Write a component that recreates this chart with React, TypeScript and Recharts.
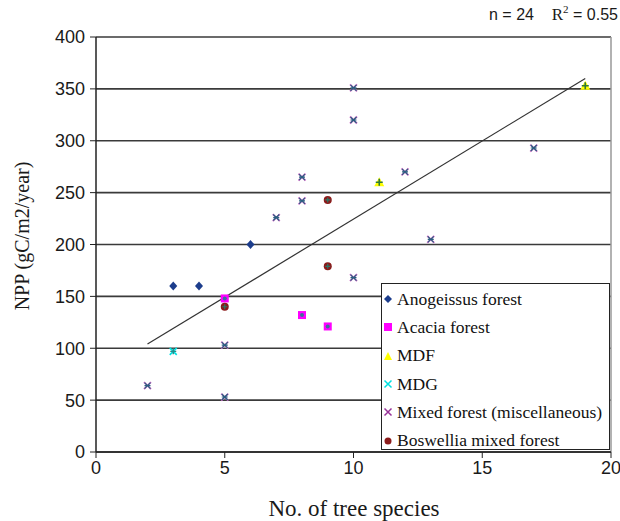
import React from "react";
import { ScatterChart, Scatter, XAxis, YAxis, CartesianGrid, ReferenceLine } from "recharts";

const anogeissus = [
  { x: 3, y: 160 },
  { x: 4, y: 160 },
  { x: 6, y: 200 },
];
const acacia = [
  { x: 5, y: 148 },
  { x: 8, y: 132 },
  { x: 9, y: 121 },
];
const mdf = [
  { x: 11, y: 260 },
  { x: 19, y: 353 },
];
const mdg = [{ x: 3, y: 97 }];
const mixed = [
  { x: 2, y: 64 },
  { x: 5, y: 103 },
  { x: 5, y: 53 },
  { x: 7, y: 226 },
  { x: 8, y: 242 },
  { x: 8, y: 265 },
  { x: 10, y: 351 },
  { x: 10, y: 320 },
  { x: 10, y: 168 },
  { x: 12, y: 270 },
  { x: 13, y: 205 },
  { x: 17, y: 293 },
];
const boswellia = [
  { x: 5, y: 140 },
  { x: 9, y: 243 },
  { x: 9, y: 179 },
];
const trend = [
  { x: 2, y: 104 },
  { x: 19, y: 360 },
];
const xTicks = [0, 5, 10, 15, 20];
const yTicks = [0, 50, 100, 150, 200, 250, 300, 350, 400];
const legendItems = [
  "Anogeissus forest",
  "Acacia forest",
  "MDF",
  "MDG",
  "Mixed forest (miscellaneous)",
  "Boswellia mixed forest",
];

const Diamond = (p: any) => {
  const { cx, cy } = p;
  return <path d={`M${cx},${cy - 4.5} L${cx + 4},${cy} L${cx},${cy + 4.5} L${cx - 4},${cy} Z`} fill="#1c3d8c" />;
};
const Square = (p: any) => {
  const { cx, cy } = p;
  return (
    <g>
      <rect x={cx - 4} y={cy - 4} width={8} height={8} fill="#ff00ff" />
      <circle cx={cx} cy={cy} r={2} fill="#3a6f9a" />
    </g>
  );
};
const Tri = (p: any) => {
  const { cx, cy } = p;
  return (
    <g>
      <path d={`M${cx},${cy - 5} L${cx + 5},${cy + 4} L${cx - 5},${cy + 4} Z`} fill="#ffff00" />
      <path d={`M${cx - 3.5},${cy} L${cx + 3.5},${cy} M${cx},${cy - 3.5} L${cx},${cy + 3.5}`} stroke="#2f7a3a" strokeWidth={1.6} />
    </g>
  );
};
const Cross = (p: any) => {
  const { cx, cy } = p;
  return (
    <g>
      <path d={`M${cx - 3.5},${cy - 3.5} L${cx + 3.5},${cy + 3.5} M${cx + 3.5},${cy - 3.5} L${cx - 3.5},${cy + 3.5}`} stroke="#00e0e0" strokeWidth={1.6} />
      <path d={`M${cx - 3},${cy} L${cx + 3},${cy} M${cx},${cy - 3} L${cx},${cy + 3}`} stroke="#2a8a8a" strokeWidth={1.4} />
    </g>
  );
};
const Asterisk = (p: any) => {
  const { cx, cy } = p;
  return (
    <g>
      <path d={`M${cx - 3.5},${cy - 3.5} L${cx + 3.5},${cy + 3.5} M${cx + 3.5},${cy - 3.5} L${cx - 3.5},${cy + 3.5}`} stroke="#d070c8" strokeWidth={1.8} />
      <path d={`M${cx - 3},${cy - 3} L${cx + 3},${cy + 3} M${cx + 3},${cy - 3} L${cx - 3},${cy + 3} M${cx - 3},${cy} L${cx + 3},${cy}`} stroke="#2a6080" strokeWidth={1.2} />
    </g>
  );
};
const Dot = (p: any) => {
  const { cx, cy } = p;
  return (
    <g>
      <circle cx={cx} cy={cy} r={4} fill="#8b1a1a" />
      <path d={`M${cx - 2.5},${cy} L${cx + 2.5},${cy} M${cx},${cy - 2.5} L${cx},${cy + 2.5}`} stroke="#2a7a6a" strokeWidth={1.2} />
    </g>
  );
};
const NoShape = () => <g />;

const legendMarkers = [
  <path d="M5,1 L9,5 L5,9 L1,5 Z" fill="#1c3d8c" />,
  <rect x={1} y={1} width={8} height={8} fill="#ff00ff" />,
  <path d="M5,1 L9,9 L1,9 Z" fill="#ffff00" />,
  <path d="M1.5,1.5 L8.5,8.5 M8.5,1.5 L1.5,8.5" stroke="#00e0e0" strokeWidth={1.5} />,
  <path d="M1.5,1.5 L8.5,8.5 M8.5,1.5 L1.5,8.5" stroke="#993399" strokeWidth={1.5} />,
  <circle cx={5} cy={5} r={3.5} fill="#8b1a1a" />,
];

const tickFont = { fill: "#1a1a1a", fontSize: 18, fontFamily: "Liberation Sans, Arial, sans-serif" };

export default function App() {
  return (
    <div style={{ position: "absolute", left: 0, top: 0, width: 620, height: 521, background: "#fff" }}>
      <ScatterChart width={620} height={521} margin={{ top: 37, right: 9, bottom: 29, left: 0 }}>
        <CartesianGrid vertical={false} stroke="#3a3a3a" strokeWidth={1.6} />
        <XAxis
          type="number"
          dataKey="x"
          domain={[0, 20]}
          ticks={xTicks}
          height={40}
          axisLine={{ stroke: "#222", strokeWidth: 1.5 }}
          tickLine={{ stroke: "#222" }}
          tickSize={6}
          tick={tickFont}
          tickMargin={3}
        />
        <YAxis
          type="number"
          dataKey="y"
          domain={[0, 400]}
          ticks={yTicks}
          width={96}
          axisLine={{ stroke: "#222", strokeWidth: 1.5 }}
          tickLine={{ stroke: "#222" }}
          tickSize={6}
          tickMargin={5}
          tick={tickFont}
        />
        <ReferenceLine x={20} stroke="#999" strokeWidth={1.5} />
        <Scatter data={trend} line={{ stroke: "#333", strokeWidth: 1.2 }} shape={NoShape} isAnimationActive={false} legendType="none" />
        <Scatter data={anogeissus} shape={Diamond} isAnimationActive={false} />
        <Scatter data={acacia} shape={Square} isAnimationActive={false} />
        <Scatter data={mdg} shape={Cross} isAnimationActive={false} />
        <Scatter data={mixed} shape={Asterisk} isAnimationActive={false} />
        <Scatter data={boswellia} shape={Dot} isAnimationActive={false} />
        <Scatter data={mdf} shape={Tri} isAnimationActive={false} />
      </ScatterChart>

      <div
        style={{
          position: "absolute",
          left: 22,
          top: 236,
          transform: "translate(-50%, -50%) rotate(-90deg)",
          whiteSpace: "nowrap",
          fontFamily: "Liberation Serif, Times New Roman, serif",
          fontSize: 20,
          color: "#1a1a1a",
        }}
      >
        NPP (gC/m2/year)
      </div>
      <div
        style={{
          position: "absolute",
          left: 354,
          top: 509,
          transform: "translate(-50%, -50%)",
          whiteSpace: "nowrap",
          fontFamily: "Liberation Serif, Times New Roman, serif",
          fontSize: 23,
          color: "#1a1a1a",
        }}
      >
        No. of tree species
      </div>
      <div
        style={{
          position: "absolute",
          left: 489,
          top: 3,
          whiteSpace: "nowrap",
          fontSize: 16,
          color: "#1a1a1a",
          fontFamily: "Liberation Sans, Arial, sans-serif",
        }}
      >
        n = 24&nbsp;&nbsp;&nbsp;&nbsp;
        <span style={{ fontFamily: "Liberation Serif, Times New Roman, serif", fontSize: 17 }}>
          R<sup style={{ fontSize: 11 }}>2</sup>
        </span>
        {" = 0.55"}
      </div>
      <div
        style={{
          position: "absolute",
          left: 381,
          top: 283,
          width: 229,
          height: 167,
          border: "1px solid #222",
          background: "#fff",
          boxSizing: "border-box",
          paddingTop: 1,
        }}
      >
        {legendItems.map((name, i) => (
          <div
            key={name}
            style={{
              display: "flex",
              alignItems: "center",
              height: 28.3,
              fontFamily: "Liberation Serif, Times New Roman, serif",
              fontSize: 17.5,
              color: "#111",
              whiteSpace: "nowrap",
            }}
          >
            <svg width={10} height={10} style={{ marginLeft: 1, marginRight: 4, flexShrink: 0 }}>
              {legendMarkers[i]}
            </svg>
            {name}
          </div>
        ))}
      </div>
    </div>
  );
}
